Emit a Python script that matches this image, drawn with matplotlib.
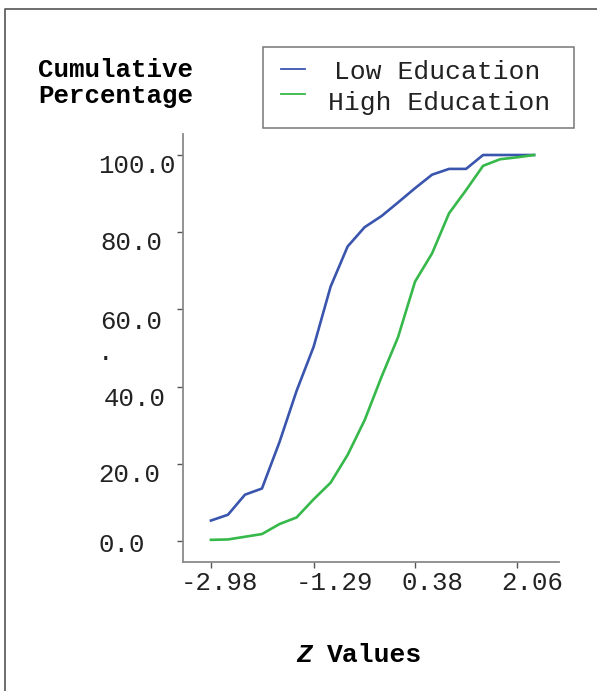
import matplotlib
matplotlib.use("Agg")
import matplotlib.pyplot as plt
from matplotlib.lines import Line2D
from matplotlib.patches import Rectangle
from matplotlib.transforms import ScaledTranslation

# Data
z_values = [-2.98, -2.70, -2.42, -2.14, -1.85, -1.57, -1.29, -1.01, -0.73, -0.45,
            -0.17, 0.10, 0.38, 0.66, 0.94, 1.22, 1.50, 1.78, 2.06, 2.34]
low_edu = [5.3, 6.8, 12.0, 13.6, 25.7, 38.9, 50.3, 65.9, 76.3, 81.3,
           84.2, 87.7, 91.4, 94.9, 96.4, 96.4, 100.0, 100.0, 100.0, 100.0]
high_edu = [0.3, 0.4, 1.1, 1.8, 4.4, 6.1, 10.8, 15.1, 22.3, 31.3,
            42.6, 52.8, 67.2, 74.5, 84.9, 90.9, 97.2, 98.9, 99.4, 100.0]
series_names = ["Low Education", "High Education"]
x_ticks = [-2.98, -1.29, 0.38, 2.06]
x_tick_labels = ["-2.98", "-1.29", "0.38", "2.06"]
y_ticks = [0, 20, 40, 60, 80, 100]
y_tick_labels = ["0.0", "20.0", "40.0", "60.0", "80.0", "100.0"]

W, H = 597, 691
FONT = "Liberation Mono"
BLUE = "#3a55ad"
GREEN = "#36b84a"


def fx(px):
    return px / W


def fy(py):
    return 1 - py / H


fig = plt.figure(figsize=(W / 100, H / 100), dpi=100)
ax = fig.add_axes([fx(183), fy(562), fx(559) - fx(183), fy(134) - fy(562)])

line_low, = ax.plot(z_values, low_edu, color=BLUE, linewidth=1.9)
line_high, = ax.plot(z_values, high_edu, color=GREEN, linewidth=1.9)

ax.set_xlim(-3.44, 2.75)
ax.set_ylim(-5.44, 105.44)

for side in ["top", "right"]:
    ax.spines[side].set_visible(False)
for side in ["left", "bottom"]:
    ax.spines[side].set_color("#8a8a8a")
    ax.spines[side].set_linewidth(1.3)

ax.tick_params(axis="both", direction="out", length=4.5, width=1.0, color="#555555",
               labelsize=18.5, labelcolor="#222222")
ax.tick_params(axis="y", pad=56)
ax.tick_params(axis="x", pad=15.5)

ax.set_xticks(x_ticks)
ax.set_xticklabels(x_tick_labels, fontfamily=FONT)
ax.set_yticks(y_ticks)
ax.set_yticklabels(y_tick_labels, fontfamily=FONT)

# the reference places its tick labels a little off the ticks
y_dx = [0, -1, 5, 1, 1, -1]
y_dy = [11, 18.5, 19, 20, 18, 18]
for lab, dx, dy in zip(ax.get_yticklabels(), y_dx, y_dy):
    lab.set_ha("left")
    lab.set_va("baseline")
    lab.set_transform(lab.get_transform() + ScaledTranslation(dx / 100, -dy / 100, fig.dpi_scale_trans))

x_dx = [9, 21, 17, 15]
for lab, dx in zip(ax.get_xticklabels(), x_dx):
    lab.set_va("baseline")
    lab.set_transform(lab.get_transform() + ScaledTranslation(dx / 100, 0, fig.dpi_scale_trans))

# stray dot next to the y axis
fig.text(fx(105), fy(360), ".", fontfamily=FONT, fontsize=18.5, color="#222222",
         ha="center", va="baseline")

# axis titles
fig.text(fx(38), fy(77), "Cumulative", fontfamily=FONT, fontweight="bold",
         fontsize=18.5, ha="left", va="baseline")
fig.text(fx(38), fy(103), "Percentage", fontfamily=FONT, fontweight="bold",
         fontsize=18.5, ha="left", va="baseline")
fig.text(fx(296), fy(662), "Z", fontfamily=FONT, fontweight="bold", fontstyle="italic",
         fontsize=19, ha="left", va="baseline")
fig.text(fx(327), fy(662), "Values", fontfamily=FONT, fontweight="bold",
         fontsize=19, ha="left", va="baseline")

# legend box drawn by hand to keep the reference's layout
fig.add_artist(Rectangle((fx(262.5), fy(128)), fx(574) - fx(262.5), fy(47.5) - fy(128),
                         transform=fig.transFigure, fill=False, edgecolor="#777777", linewidth=1.1))
fig.add_artist(Line2D([fx(281), fx(305)], [fy(68.7), fy(68.7)], transform=fig.transFigure,
                      color=line_low.get_color(), linewidth=1.3))
fig.add_artist(Line2D([fx(281), fx(305)], [fy(94), fy(94)], transform=fig.transFigure,
                      color=line_high.get_color(), linewidth=1.3))
fig.text(fx(437.5), fy(79), series_names[0], fontfamily=FONT, fontsize=19,
         color="#222222", ha="center", va="baseline")
fig.text(fx(439.5), fy(110), series_names[1], fontfamily=FONT, fontsize=19,
         color="#222222", ha="center", va="baseline")

# outer frame (only left and top edges fall inside the picture)
fig.add_artist(Line2D([fx(5), fx(5), fx(W + 5)], [fy(H + 5), fy(9), fy(9)],
                      transform=fig.transFigure, color="#555555", linewidth=1.2))

fig.savefig("out.png", dpi=100)
